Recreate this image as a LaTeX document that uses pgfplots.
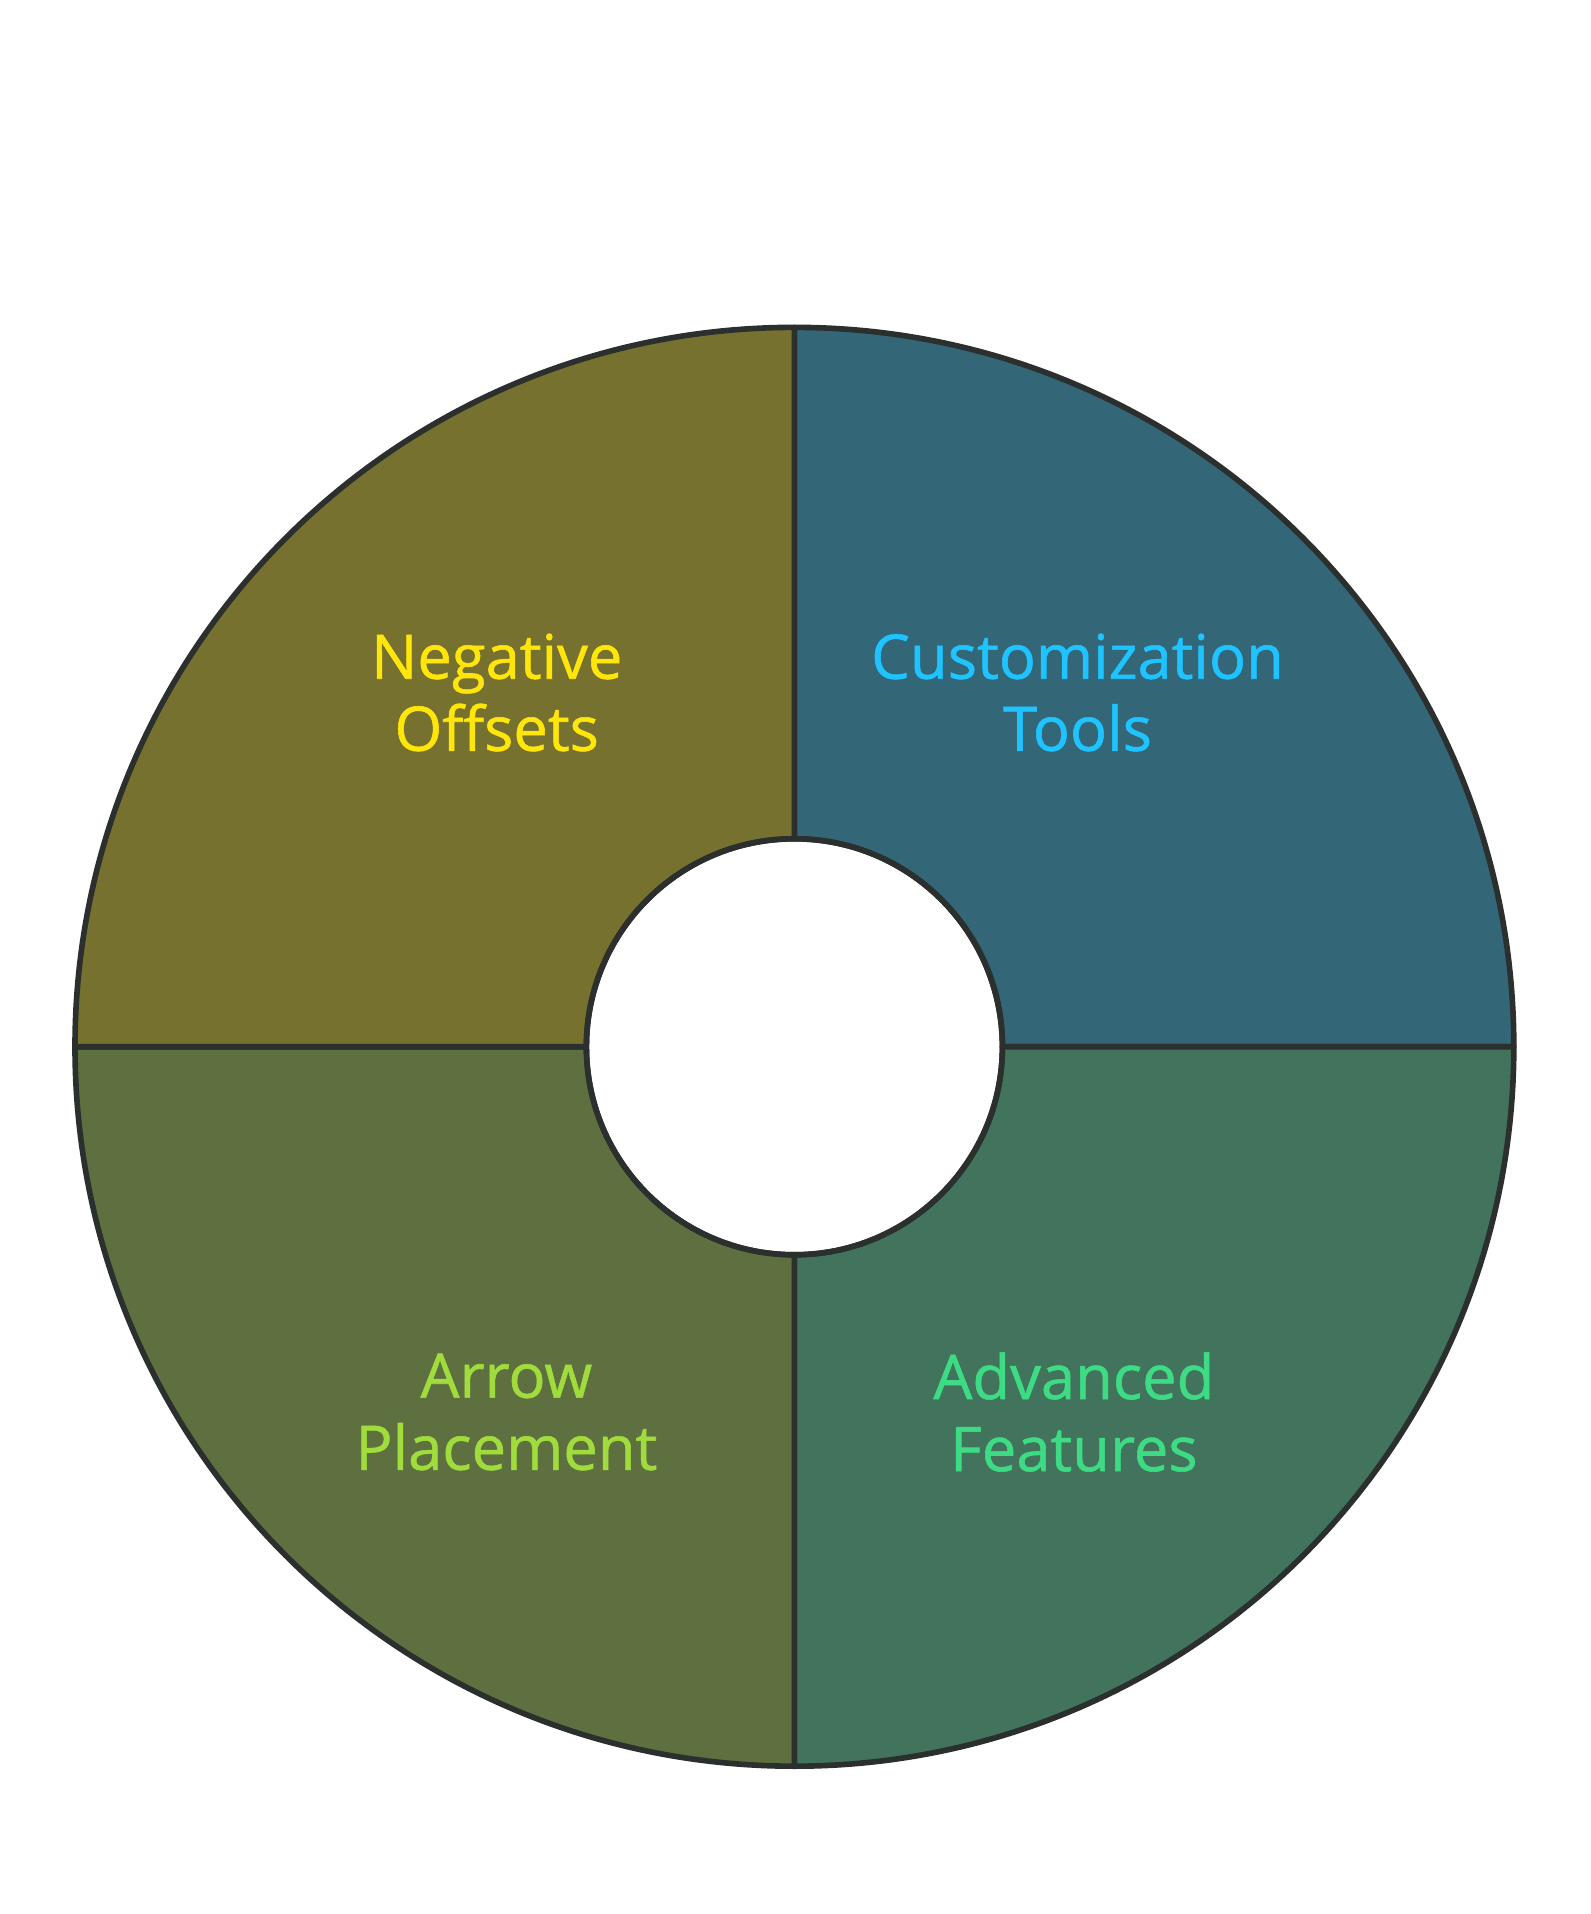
\documentclass[border=0pt]{standalone}
\usepackage{pgfplots}
\pgfplotsset{compat=1.18}
\usepackage{pgfplotstable}
\usepackage{fontspec}
\setmainfont{Open Sans}
\newfontfamily\lbl[FakeBold=0.9]{Open Sans}
\definecolor{segA}{HTML}{336677}
\definecolor{segB}{HTML}{42735C}
\definecolor{segC}{HTML}{5F7040}
\definecolor{segD}{HTML}{777130}
\definecolor{txtA}{HTML}{1EC3FF}
\definecolor{txtB}{HTML}{3DDC84}
\definecolor{txtC}{HTML}{9FDC3C}
\definecolor{txtD}{HTML}{FFE60A}
\definecolor{edge}{HTML}{2B2F2D}
% slice values (mermaid pie order, clockwise from 12 o'clock)
\pgfplotstableread{
label value
Customization 25
Advanced 25
Arrow 25
Negative 25
}\slices
\pgfplotstablegetelem{0}{value}\of\slices \let\vA\pgfplotsretval
\pgfplotstablegetelem{1}{value}\of\slices \let\vB\pgfplotsretval
\pgfplotstablegetelem{2}{value}\of\slices \let\vC\pgfplotsretval
\pgfplotstablegetelem{3}{value}\of\slices \let\vD\pgfplotsretval
\pgfmathsetmacro\tot{\vA+\vB+\vC+\vD}
\pgfmathsetmacro\aA{90}
\pgfmathsetmacro\aB{\aA-360*\vA/\tot}
\pgfmathsetmacro\aC{\aB-360*\vB/\tot}
\pgfmathsetmacro\aD{\aC-360*\vC/\tot}
\pgfmathsetmacro\aE{\aD-360*\vD/\tot}
\def\cx{7.944}
\def\cy{8.672}
\def\R{7.194}
\def\r{2.08}
\newcommand\sector[3]{% start end color
  \filldraw[fill=#3, draw=edge, line width=1.6pt, line join=round]
    (axis cs:{\cx+\R*cos(#1)},{\cy+\R*sin(#1)})
    arc[start angle=#1, end angle=#2, radius=\R cm]
    -- (axis cs:{\cx+\r*cos(#2)},{\cy+\r*sin(#2)})
    arc[start angle=#2, end angle=#1, radius=\r cm] -- cycle;}
\begin{document}
\begin{tikzpicture}
\path[use as bounding box] (0,0) rectangle (15.9,19.14);
\begin{axis}[
  at={(0,0)}, anchor=south west,
  x=1cm, y=1cm, scale only axis,
  xmin=0, xmax=15.9, ymin=0, ymax=19.14,
  hide axis, clip=false,
]
\sector{\aA}{\aB}{segA}
\sector{\aB}{\aC}{segB}
\sector{\aC}{\aD}{segC}
\sector{\aD}{\aE}{segD}
\draw[edge, line width=1.6pt] (axis cs:\cx,\cy) circle[radius=\r cm];
\node[align=center, text=txtA, font=\lbl\fontsize{17.5}{20.5}\selectfont] at (axis cs:10.775,12.215) {Customization\\Tools};
\node[align=center, text=txtB, font=\lbl\fontsize{17.5}{20.5}\selectfont] at (axis cs:10.739,5.02) {Advanced\\Features};
\node[align=center, text=txtC, font=\lbl\fontsize{17.5}{20.5}\selectfont] at (axis cs:5.064,5.02) {Arrow\\Placement};
\node[align=center, text=txtD, font=\lbl\fontsize{17.5}{20.5}\selectfont] at (axis cs:4.967,12.215) {Negative\\Offsets};
\end{axis}
\end{tikzpicture}
\end{document}
